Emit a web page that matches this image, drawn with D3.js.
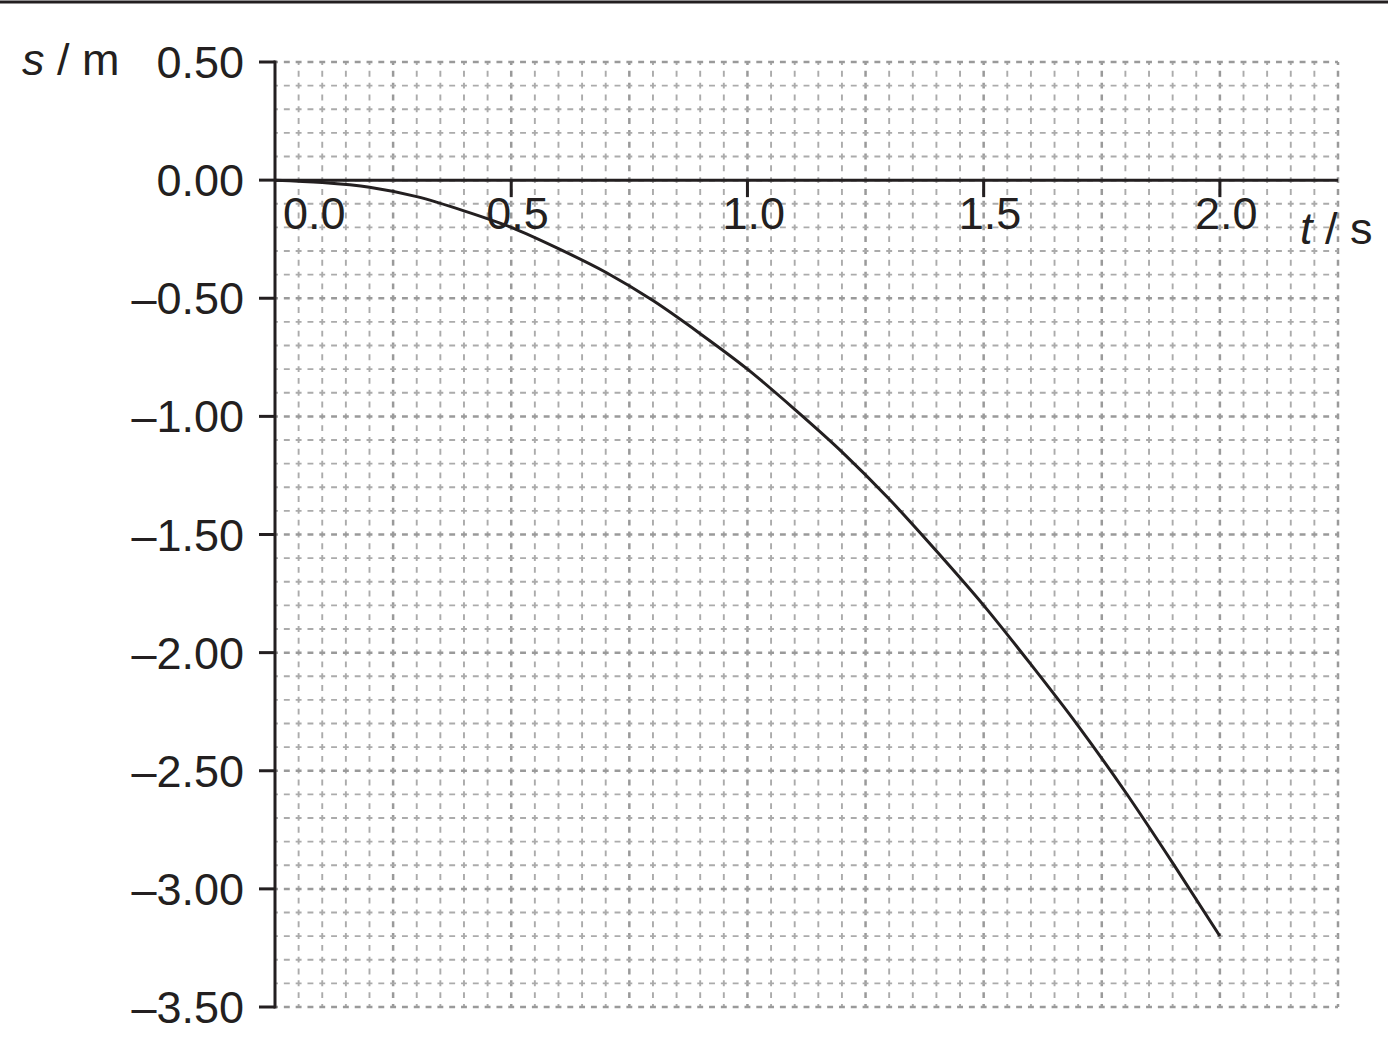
<!DOCTYPE html>
<html>
<head>
<meta charset="utf-8">
<script src="https://cdn.jsdelivr.net/npm/d3@7"></script>
<style>
  html, body { margin: 0; padding: 0; background: #fff; }
  svg text { font-family: "Liberation Sans", Arial, sans-serif; fill: #231f20; }
</style>
</head>
<body>
<div id="chart"></div>
<script>
// values, time in s, displacement in m
let times = [0.0, 0.1, 0.2, 0.3, 0.4, 0.5, 0.6, 0.7, 0.8, 0.9, 1.0,
             1.1, 1.2, 1.3, 1.4, 1.5, 1.6, 1.7, 1.8, 1.9, 2.0];
let displacements = [0.00, -0.01, -0.03, -0.07, -0.13, -0.20, -0.29, -0.39, -0.51, -0.65, -0.80,
                     -0.97, -1.15, -1.35, -1.57, -1.80, -2.05, -2.31, -2.59, -2.89, -3.20];

let xTicks = [0.0, 0.5, 1.0, 1.5, 2.0];
let xTickLabels = ['0.0', '0.5', '1.0', '1.5', '2.0'];
let yTicks = [0.5, 0, -0.5, -1, -1.5, -2, -2.5, -3, -3.5];
let yTickLabels = ['0.50', '0.00', '\u20130.50', '\u20131.00', '\u20131.50',
                   '\u20132.00', '\u20132.50', '\u20133.00', '\u20133.50'];

let width = 1388, height = 1042;

let svg = d3.select('#chart').append('svg')
    .attr('width', width)
    .attr('height', height);

let x = d3.scaleLinear().domain([0, 2.25]).range([275, 1338]);
let y = d3.scaleLinear().domain([0.5, -3.5]).range([62, 1007]);

// top rule
svg.append('line')
    .attr('x1', 0).attr('x2', width)
    .attr('y1', 2).attr('y2', 2)
    .attr('stroke', '#231f20').attr('stroke-width', 3);

// graph paper grid: dashes centred on each crossing and half way between
let cell = x(0.05) - x(0);
let dash = cell / 2 * 0.5;
let gap = cell / 2 - dash;
let grid = svg.append('g').attr('class', 'grid');

function gridColor(d) { return d % 5 == 0 ? '#9a9a9a' : '#ababab'; }
function gridWidth(d) { return d % 5 == 0 ? 2.5 : 1.9; }

let vLines = d3.range(1, 46);
grid.selectAll('line.v').data(vLines).enter()
    .append('line').attr('class', 'v')
    .attr('x1', function(d) { return x(d * 0.05); })
    .attr('x2', function(d) { return x(d * 0.05); })
    .attr('y1', y(0.5)).attr('y2', y(-3.5))
    .attr('stroke', gridColor)
    .attr('stroke-width', gridWidth)
    .attr('stroke-dasharray', dash + ',' + gap)
    .attr('stroke-dashoffset', dash / 2);

let hLines = d3.range(0, 41);
grid.selectAll('line.h').data(hLines).enter()
    .append('line').attr('class', 'h')
    .attr('y1', function(d) { return y(0.5 - d * 0.1); })
    .attr('y2', function(d) { return y(0.5 - d * 0.1); })
    .attr('x1', x(0)).attr('x2', x(2.25))
    .attr('stroke', gridColor)
    .attr('stroke-width', gridWidth)
    .attr('stroke-dasharray', dash + ',' + gap)
    .attr('stroke-dashoffset', dash / 2);

// axes
let axisColor = '#231f20';
svg.append('line')
    .attr('x1', x(0)).attr('x2', x(0))
    .attr('y1', y(0.5) - 1.5).attr('y2', y(-3.5) + 1.5)
    .attr('stroke', axisColor).attr('stroke-width', 3);
svg.append('line')
    .attr('x1', x(0)).attr('x2', x(2.25))
    .attr('y1', y(0)).attr('y2', y(0))
    .attr('stroke', axisColor).attr('stroke-width', 3);

let yAxisG = svg.append('g');
yAxisG.selectAll('line').data(yTicks).enter()
    .append('line')
    .attr('x1', x(0) - 16).attr('x2', x(0))
    .attr('y1', function(d) { return y(d); })
    .attr('y2', function(d) { return y(d); })
    .attr('stroke', axisColor).attr('stroke-width', 3);
yAxisG.selectAll('text').data(yTicks).enter()
    .append('text')
    .attr('x', 244)
    .attr('y', function(d) { return y(d) + 16; })
    .attr('text-anchor', 'end')
    .attr('font-size', 45)
    .text(function(d, i) { return yTickLabels[i]; });

let xAxisG = svg.append('g');
xAxisG.selectAll('line').data(xTicks.slice(1)).enter()
    .append('line')
    .attr('x1', function(d) { return x(d); })
    .attr('x2', function(d) { return x(d); })
    .attr('y1', y(0)).attr('y2', y(0) + 17)
    .attr('stroke', axisColor).attr('stroke-width', 3);
xAxisG.selectAll('text').data(xTicks).enter()
    .append('text')
    .attr('x', function(d) { return d == 0 ? x(d) + 8 : x(d) - 25; })
    .attr('y', y(0) + 49)
    .attr('text-anchor', 'start')
    .attr('font-size', 45)
    .text(function(d, i) { return xTickLabels[i]; });

// axis titles
let yTitle = svg.append('text')
    .attr('x', 22).attr('y', 75)
    .attr('font-size', 45);
yTitle.append('tspan').attr('font-style', 'italic').text('s');
yTitle.append('tspan').text(' / m');

let xTitle = svg.append('text')
    .attr('x', 1300).attr('y', 244)
    .attr('font-size', 45);
xTitle.append('tspan').attr('font-style', 'italic').text('t');
xTitle.append('tspan').text(' / s');

// curve
let points = times.map(function(t, i) { return { t: t, s: displacements[i] }; });
let line = d3.line()
    .x(function(d) { return x(d.t); })
    .y(function(d) { return y(d.s); })
    .curve(d3.curveMonotoneX);

svg.append('path')
    .datum(points)
    .attr('d', line)
    .attr('fill', 'none')
    .attr('stroke', '#231f20')
    .attr('stroke-width', 3);
</script>
</body>
</html>
